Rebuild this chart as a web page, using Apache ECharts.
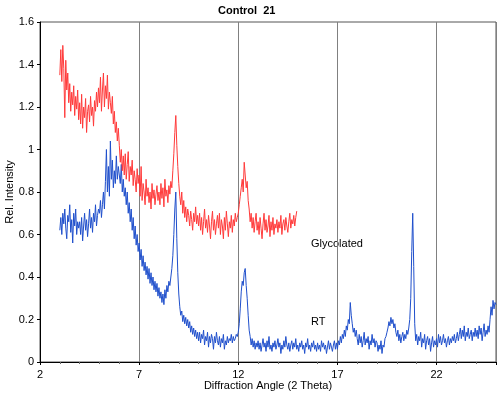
<!DOCTYPE html>
<html><head><meta charset="utf-8">
<script src="https://cdn.jsdelivr.net/npm/echarts@6/dist/echarts.min.js"></script>
<style>html,body{margin:0;padding:0;background:#fff}#c{width:500px;height:396px}</style>
</head><body><div id="c"></div>
<script>
const chartTitle = 'Control  21';
const xAxisName = 'Diffraction Angle (2 Theta)';
const yAxisName = 'Rel. Intensity';
const xTickLabels = ['2', '7', '12', '17', '22'];
const seriesNames = ['RT', 'Glycolated'];
const xStart = 3.0;
const xStep = 0.05;

// RT (blue), 2θ = 3.00 .. 25.00 step 0.05
const rtValues = [
  0.62,0.68,0.60,0.70,0.65,0.72,0.63,0.58,0.69,0.66,0.74,0.61,0.67,0.56,0.70,0.64,0.72,0.60,0.66,0.63,
  0.66,0.60,0.68,0.57,0.64,0.70,0.62,0.67,0.59,0.65,0.72,0.63,0.68,0.61,0.70,0.66,0.74,0.64,0.69,0.72,
  0.70,0.76,0.68,0.74,0.80,0.72,0.85,1.00,0.80,0.92,0.78,1.04,0.86,0.95,0.82,0.90,0.84,0.97,0.86,0.92,
  0.88,0.84,0.93,0.80,0.86,0.78,0.82,0.74,0.80,0.70,0.75,0.66,0.72,0.62,0.68,0.58,0.64,0.55,0.60,0.52,
  0.56,0.48,0.53,0.45,0.50,0.43,0.47,0.41,0.45,0.39,0.44,0.37,0.42,0.36,0.40,0.34,0.38,0.33,0.37,0.31,
  0.35,0.30,0.33,0.28,0.32,0.27,0.34,0.30,0.36,0.33,0.38,0.36,0.40,0.44,0.50,0.60,0.72,0.80,0.58,0.42,
  0.32,0.26,0.22,0.24,0.19,0.22,0.18,0.21,0.17,0.20,0.16,0.19,0.14,0.17,0.13,0.16,0.12,0.15,0.11,0.14,
  0.10,0.14,0.09,0.13,0.11,0.15,0.08,0.12,0.10,0.14,0.07,0.12,0.09,0.13,0.11,0.06,0.12,0.09,0.14,0.10,
  0.08,0.12,0.07,0.11,0.09,0.13,0.06,0.10,0.08,0.12,0.09,0.11,0.10,0.13,0.09,0.12,0.10,0.11,0.13,0.12,
  0.14,0.18,0.25,0.33,0.38,0.36,0.42,0.44,0.36,0.30,0.22,0.15,0.12,0.08,0.11,0.07,0.10,0.06,0.09,0.07,
  0.10,0.06,0.09,0.05,0.08,0.11,0.07,0.09,0.05,0.10,0.07,0.12,0.06,0.08,0.05,0.09,0.07,0.10,0.06,0.08,
  0.11,0.07,0.09,0.04,0.08,0.06,0.10,0.07,0.12,0.08,0.06,0.09,0.05,0.08,0.10,0.06,0.09,0.07,0.11,0.06,
  0.08,0.05,0.09,0.07,0.10,0.06,0.08,0.04,0.09,0.07,0.11,0.06,0.08,0.05,0.09,0.07,0.10,0.06,0.08,0.05,
  0.09,0.06,0.08,0.05,0.10,0.07,0.09,0.06,0.08,0.04,0.07,0.10,0.06,0.09,0.07,0.05,0.08,0.10,0.06,0.09,
  0.06,0.10,0.08,0.12,0.09,0.13,0.11,0.15,0.12,0.17,0.15,0.20,0.18,0.28,0.22,0.18,0.14,0.16,0.12,0.15,
  0.11,0.08,0.13,0.09,0.12,0.07,0.10,0.14,0.08,0.11,0.09,0.12,0.06,0.10,0.08,0.13,0.09,0.11,0.07,0.10,
  0.09,0.05,0.08,0.06,0.10,0.04,0.08,0.07,0.11,0.12,0.14,0.16,0.19,0.17,0.21,0.18,0.20,0.16,0.18,0.14,
  0.12,0.15,0.10,0.13,0.09,0.12,0.14,0.10,0.13,0.11,0.15,0.13,0.16,0.20,0.30,0.52,0.70,0.45,0.18,0.10,
  0.13,0.08,0.12,0.10,0.14,0.07,0.11,0.09,0.13,0.06,0.10,0.12,0.08,0.11,0.05,0.09,0.12,0.07,0.10,0.08,
  0.11,0.07,0.13,0.09,0.12,0.08,0.10,0.13,0.09,0.11,0.07,0.10,0.12,0.08,0.11,0.09,0.12,0.10,0.13,0.09,
  0.11,0.14,0.10,0.13,0.16,0.11,0.15,0.12,0.17,0.10,0.14,0.12,0.16,0.11,0.13,0.15,0.10,0.14,0.12,0.16,
  0.12,0.15,0.11,0.17,0.13,0.16,0.10,0.14,0.18,0.12,0.15,0.13,0.17,0.14,0.20,0.26,0.22,0.29,0.25,0.28,
  0.27
];

// Glycolated (red), 2θ = 3.00 .. 14.95 step 0.05
const glycolatedValues = [
  1.35,1.47,1.32,1.49,1.38,1.15,1.42,1.28,1.36,1.22,1.31,1.18,1.27,1.21,1.30,1.16,1.25,1.19,1.28,1.14,
  1.22,1.12,1.26,1.10,1.20,1.15,1.24,1.08,1.18,1.21,1.13,1.25,1.16,1.20,1.11,1.23,1.18,1.27,1.20,1.29,
  1.22,1.34,1.18,1.28,1.36,1.20,1.30,1.24,1.35,1.19,1.27,1.22,1.17,1.25,1.12,1.18,1.08,1.13,1.04,1.10,
  1.02,0.94,1.00,0.90,0.97,0.88,0.98,0.86,0.93,0.99,0.85,0.92,0.88,0.95,0.83,0.90,0.86,0.80,0.91,0.84,
  0.88,0.78,0.92,0.76,0.84,0.80,0.74,0.86,0.78,0.82,0.75,0.80,0.72,0.84,0.77,0.81,0.74,0.79,0.83,0.76,
  0.80,0.74,0.84,0.77,0.82,0.73,0.86,0.78,0.81,0.75,0.83,0.79,0.85,0.82,0.90,0.98,1.08,1.16,1.02,0.92,
  0.84,0.78,0.74,0.80,0.70,0.76,0.68,0.73,0.66,0.72,0.69,0.64,0.71,0.67,0.62,0.70,0.66,0.73,0.65,0.69,
  0.64,0.70,0.62,0.68,0.60,0.66,0.72,0.63,0.67,0.61,0.69,0.64,0.58,0.66,0.71,0.62,0.67,0.60,0.65,0.69,
  0.63,0.70,0.60,0.67,0.64,0.58,0.68,0.62,0.71,0.65,0.59,0.66,0.63,0.69,0.61,0.67,0.64,0.70,0.66,0.68,
  0.70,0.74,0.78,0.82,0.86,0.80,0.94,0.88,0.82,0.85,0.76,0.72,0.66,0.70,0.63,0.68,0.61,0.66,0.70,0.62,
  0.66,0.60,0.68,0.63,0.58,0.65,0.70,0.62,0.67,0.61,0.64,0.69,0.59,0.66,0.62,0.68,0.60,0.65,0.63,0.67,
  0.61,0.66,0.63,0.69,0.60,0.65,0.67,0.62,0.68,0.64,0.61,0.66,0.70,0.63,0.67,0.65,0.69,0.64,0.68,0.71
];

const toPairs = vals => vals.map((v, i) => [+(xStart + i * xStep).toFixed(2), v]);
const FONT = "'Liberation Sans', Arial, sans-serif";

const chart = echarts.init(document.getElementById('c'), null, {renderer: 'canvas'});
chart.setOption({
  animation: false,
  backgroundColor: '#fff',
  textStyle: {fontFamily: FONT},
  title: {
    text: chartTitle, left: 213, top: 0,
    textStyle: {fontSize: 11, fontWeight: 'bold', color: '#000', fontFamily: FONT}
  },
  grid: {left: 40, right: 4, top: 22, bottom: 34, containLabel: false, outerBoundsMode: 'none',
         show: true, borderColor: '#555', borderWidth: 1},
  xAxis: {
    type: 'value', min: 2, max: 25, interval: 5,
    name: xAxisName, nameLocation: 'middle', nameGap: 18, nameMoveOverlap: false,
    nameTextStyle: {fontSize: 11, color: '#000', fontFamily: FONT},
    axisLine: {lineStyle: {color: '#000', width: 1}},
    axisTick: {show: true, length: 3, lineStyle: {color: '#000'}},
    minorTick: {show: true, splitNumber: 5, length: 2, lineStyle: {color: '#666'}},
    axisLabel: {
      fontSize: 11, color: '#000', margin: 7, fontFamily: FONT,
      showMaxLabel: false,
      formatter: v => (xTickLabels.indexOf(String(v)) >= 0 ? String(v) : '')
    },
    splitLine: {show: true, lineStyle: {color: '#808080', width: 1}}
  },
  yAxis: {
    type: 'value', min: 0, max: 1.6, interval: 0.2,
    name: yAxisName, nameLocation: 'middle', nameGap: 25, nameRotate: 90, nameMoveOverlap: false,
    nameTextStyle: {fontSize: 11, color: '#000', fontFamily: FONT},
    axisLine: {show: true, lineStyle: {color: '#000', width: 1}},
    axisTick: {show: true, length: 3, lineStyle: {color: '#000'}},
    axisLabel: {fontSize: 11, color: '#000', margin: 6, fontFamily: FONT},
    splitLine: {show: false}
  },
  series: [
    {
      name: seriesNames[0], type: 'line', data: toPairs(rtValues),
      showSymbol: false, symbol: 'none',
      lineStyle: {color: '#1f4fcc', width: 1}, z: 2
    },
    {
      name: seriesNames[1], type: 'line', data: toPairs(glycolatedValues),
      showSymbol: false, symbol: 'none',
      lineStyle: {color: '#ff3a3a', width: 1}, z: 3
    }
  ],
  graphic: [
    {type: 'text', left: 311, top: 238, style: {text: seriesNames[1], fill: '#000', font: "11px 'Liberation Sans', Arial"}},
    {type: 'text', left: 311, top: 316, style: {text: seriesNames[0], fill: '#000', font: "11px 'Liberation Sans', Arial"}}
  ]
});
</script>
</body></html>
